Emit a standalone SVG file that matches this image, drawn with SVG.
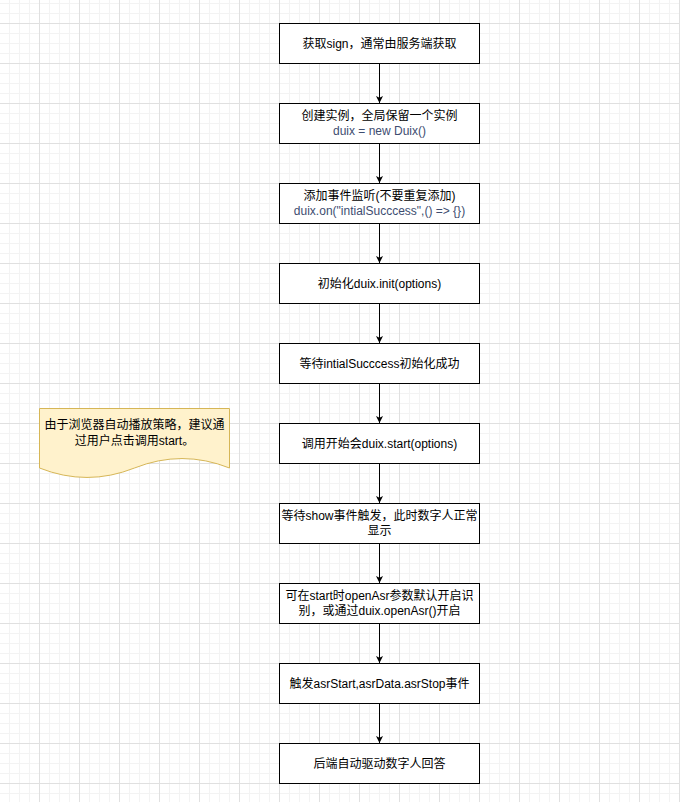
<svg xmlns="http://www.w3.org/2000/svg" width="680" height="802" viewBox="0 0 680 802">
<style>
.box{fill:#ffffff;stroke:#000000;stroke-width:1}
.t{font-family:"Liberation Sans","Noto Sans CJK SC",sans-serif;font-size:12px;fill:#000000;text-anchor:middle}
.code{fill:#3e4d70}
.edge{fill:none;stroke:#000000;stroke-width:1;marker-end:url(#arr)}
.note{fill:#fff2cc;stroke:#d6b656;stroke-width:1}
</style>
<defs>
<pattern id="grid" patternUnits="userSpaceOnUse" x="-1" y="-17" width="40" height="40">
<rect x="0" y="0" width="40" height="40" fill="#ffffff"/>
<rect x="10" y="0" width="1" height="40" fill="#f3f3f3"/>
<rect x="20" y="0" width="1" height="40" fill="#f3f3f3"/>
<rect x="30" y="0" width="1" height="40" fill="#f3f3f3"/>
<rect x="0" y="10" width="40" height="1" fill="#f3f3f3"/>
<rect x="0" y="20" width="40" height="1" fill="#f3f3f3"/>
<rect x="0" y="30" width="40" height="1" fill="#f3f3f3"/>
<rect x="0" y="0" width="1" height="40" fill="#e0e0e0"/>
<rect x="0" y="0" width="40" height="1" fill="#e0e0e0"/>
</pattern>
<marker id="arr" markerUnits="userSpaceOnUse" viewBox="0 0 8 8" markerWidth="8" markerHeight="8" refX="7" refY="3.5" orient="auto">
<path d="M0,0 L7,3.5 L0,7 L1.75,3.5 Z" fill="#000000"/>
</marker>
</defs>
<rect x="0" y="0" width="680" height="802" fill="url(#grid)"/>

<g id="connectors">
<path class="edge" d="M379.5,63.5 L379.5,103"/>
<path class="edge" d="M379.5,143.5 L379.5,183"/>
<path class="edge" d="M379.5,223.5 L379.5,263"/>
<path class="edge" d="M379.5,303.5 L379.5,343"/>
<path class="edge" d="M379.5,383.5 L379.5,423"/>
<path class="edge" d="M379.5,463.5 L379.5,503"/>
<path class="edge" d="M379.5,543.5 L379.5,583"/>
<path class="edge" d="M379.5,623.5 L379.5,663"/>
<path class="edge" d="M379.5,703.5 L379.5,743"/>
</g>

<g id="n1"><rect class="box" x="279.5" y="23.5" width="200" height="40"/>
<text class="t" x="379.5" y="47.5">获取sign，通常由服务端获取</text></g>

<g id="n2"><rect class="box" x="279.5" y="103.5" width="200" height="40"/>
<text class="t" x="379.5" y="119.5">创建实例，全局保留一个实例</text>
<text class="t code" x="379.5" y="135">duix = new Duix()</text></g>

<g id="n3"><rect class="box" x="279.5" y="183.5" width="200" height="40"/>
<text class="t" x="379.5" y="199.5">添加事件监听(不要重复添加)</text>
<text class="t code" x="379.5" y="215">duix.on("intialSucccess",() =&gt; {})</text></g>

<g id="n4"><rect class="box" x="279.5" y="263.5" width="200" height="40"/>
<text class="t" x="379.5" y="287.5">初始化duix.init(options)</text></g>

<g id="n5"><rect class="box" x="279.5" y="343.5" width="200" height="40"/>
<text class="t" x="379.5" y="367.5">等待intialSucccess初始化成功</text></g>

<g id="n6"><rect class="box" x="279.5" y="423.5" width="200" height="40"/>
<text class="t" x="379.5" y="447.5">调用开始会duix.start(options)</text></g>

<g id="n7"><rect class="box" x="279.5" y="503.5" width="200" height="40"/>
<text class="t" x="379.5" y="519.5">等待show事件触发，此时数字人正常</text>
<text class="t" x="379.5" y="535">显示</text></g>

<g id="n8"><rect class="box" x="279.5" y="583.5" width="200" height="40"/>
<text class="t" x="379.5" y="599.5">可在start时openAsr参数默认开启识</text>
<text class="t" x="379.5" y="615">别，或通过duix.openAsr()开启</text></g>

<g id="n9"><rect class="box" x="279.5" y="663.5" width="200" height="40"/>
<text class="t" x="379.5" y="687.5">触发asrStart,asrData.asrStop事件</text></g>

<g id="n10"><rect class="box" x="279.5" y="743.5" width="200" height="40"/>
<text class="t" x="379.5" y="767.5">后端自动驱动数字人回答</text></g>

<g id="note"><path class="note" d="M39.5,408.5 L229.5,408.5 L229.5,468 Q182,449.1 134.5,468 Q87,486.9 39.5,468 Z"/>
<text class="t" x="134.5" y="429">由于浏览器自动播放策略，建议通</text>
<text class="t" x="134.5" y="444.5">过用户点击调用start。</text></g>
</svg>
